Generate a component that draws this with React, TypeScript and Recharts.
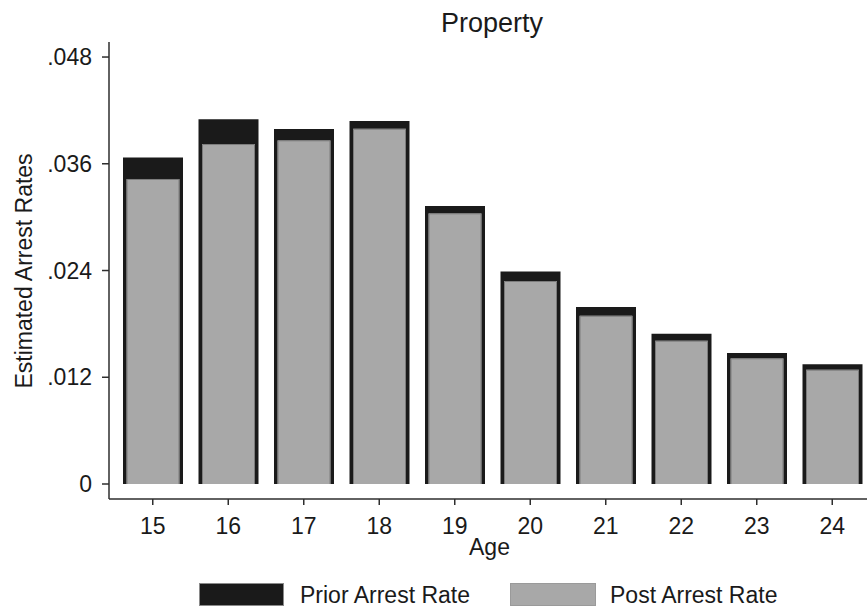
import React from 'react';
import { BarChart, Bar, XAxis, YAxis } from 'recharts';

const ages = ['15', '16', '17', '18', '19', '20', '21', '22', '23', '24'];
const priorRate = [0.0367, 0.041, 0.0399, 0.0408, 0.03125, 0.0239, 0.0199, 0.0169, 0.01473, 0.01346];
const postRate = [0.03429, 0.03822, 0.03864, 0.03994, 0.03043, 0.02282, 0.01892, 0.01611, 0.01413, 0.01285];
const yTicks = [0, 0.012, 0.024, 0.036, 0.048];

const data = ages.map((age, i) => ({ age, prior: priorRate[i], post: postRate[i] }));

const font = '"Liberation Sans", Arial, sans-serif';
const ink = '#1a1a1a';
const axisColor = '#2e2e2e';
const gray = '#a8a8a8';

const fmt = (v: number) => (v === 0 ? '0' : v.toFixed(3).replace(/^0/, ''));

const YTitle = () => (
  <text
    x={24}
    y={271}
    transform="rotate(-90 24 271)"
    textAnchor="middle"
    dominantBaseline="central"
    fontSize={23}
    fontFamily={font}
    fill={ink}
  >
    Estimated Arrest Rates
  </text>
);

// post bar sits inside the black prior bar, leaving a black frame left/right
const PostShape = (props: any) => {
  const { x, y, width, height } = props;
  if (!height || height <= 0) return null;
  const inset = 3.5;
  const l = x + inset;
  const r = x + width - inset;
  const b = y + height;
  return (
    <g>
      <rect x={l} y={y} width={r - l} height={height} fill={gray} />
      <path d={`M${l + 0.5},${b} V${y + 0.5} H${r - 0.5} V${b}`} fill="none" stroke="#7c7c7c" strokeWidth={1} />
    </g>
  );
};

const App: React.FC = () => {
  return (
    <div style={{ position: 'absolute', left: 0, top: 0, width: 867, height: 609, overflow: 'hidden', background: '#fff', fontFamily: font }}>
      <div style={{ position: 'absolute', left: 492, top: 10, transform: 'translateX(-50%)', fontSize: 27, lineHeight: '27px', color: ink, whiteSpace: 'nowrap' }}>
        Property
      </div>
      <BarChart width={870} height={609} data={data} margin={{ top: 42, right: 0, bottom: 50, left: 0 }} barGap={-60}>
        <XAxis
          dataKey="age"
          height={60}
          interval={0}
          padding={{ left: 6, right: 0 }}
          tickSize={6}
          tickMargin={13}
          axisLine={{ stroke: axisColor, strokeWidth: 1.5 }}
          tickLine={{ stroke: axisColor, strokeWidth: 1.5 }}
          tick={{ fill: ink, fontSize: 23, fontFamily: font }}
          label={{ value: 'Age', position: 'insideBottom', offset: 4, fill: ink, fontSize: 23, fontFamily: font }}
        />
        <YAxis
          type="number"
          width={109}
          domain={[-0.001686, 0.04969]}
          allowDataOverflow
          ticks={yTicks}
          tickFormatter={fmt}
          tickSize={7}
          tickMargin={10}
          axisLine={{ stroke: axisColor, strokeWidth: 1.5 }}
          tickLine={{ stroke: axisColor, strokeWidth: 1.5 }}
          tick={{ fill: ink, fontSize: 23, fontFamily: font }}
          label={{ content: () => <YTitle /> }}
        />
        <Bar dataKey="prior" name="Prior Arrest Rate" fill={ink} barSize={60} isAnimationActive={false} />
        <Bar dataKey="post" name="Post Arrest Rate" fill={gray} barSize={60} shape={PostShape} isAnimationActive={false} />
      </BarChart>
      <div style={{ position: 'absolute', left: 199, top: 583, width: 85, height: 23, background: ink, boxSizing: 'border-box', border: '1px solid #8a8a8a' }} />
      <div style={{ position: 'absolute', left: 300, top: 584, fontSize: 23, lineHeight: '23px', color: ink, whiteSpace: 'nowrap' }}>
        Prior Arrest Rate
      </div>
      <div style={{ position: 'absolute', left: 510, top: 583, width: 86, height: 23, background: gray, boxSizing: 'border-box', border: '1px solid #9a9a9a' }} />
      <div style={{ position: 'absolute', left: 610, top: 584, fontSize: 23, lineHeight: '23px', color: ink, whiteSpace: 'nowrap' }}>
        Post Arrest Rate
      </div>
    </div>
  );
};

export default App;
